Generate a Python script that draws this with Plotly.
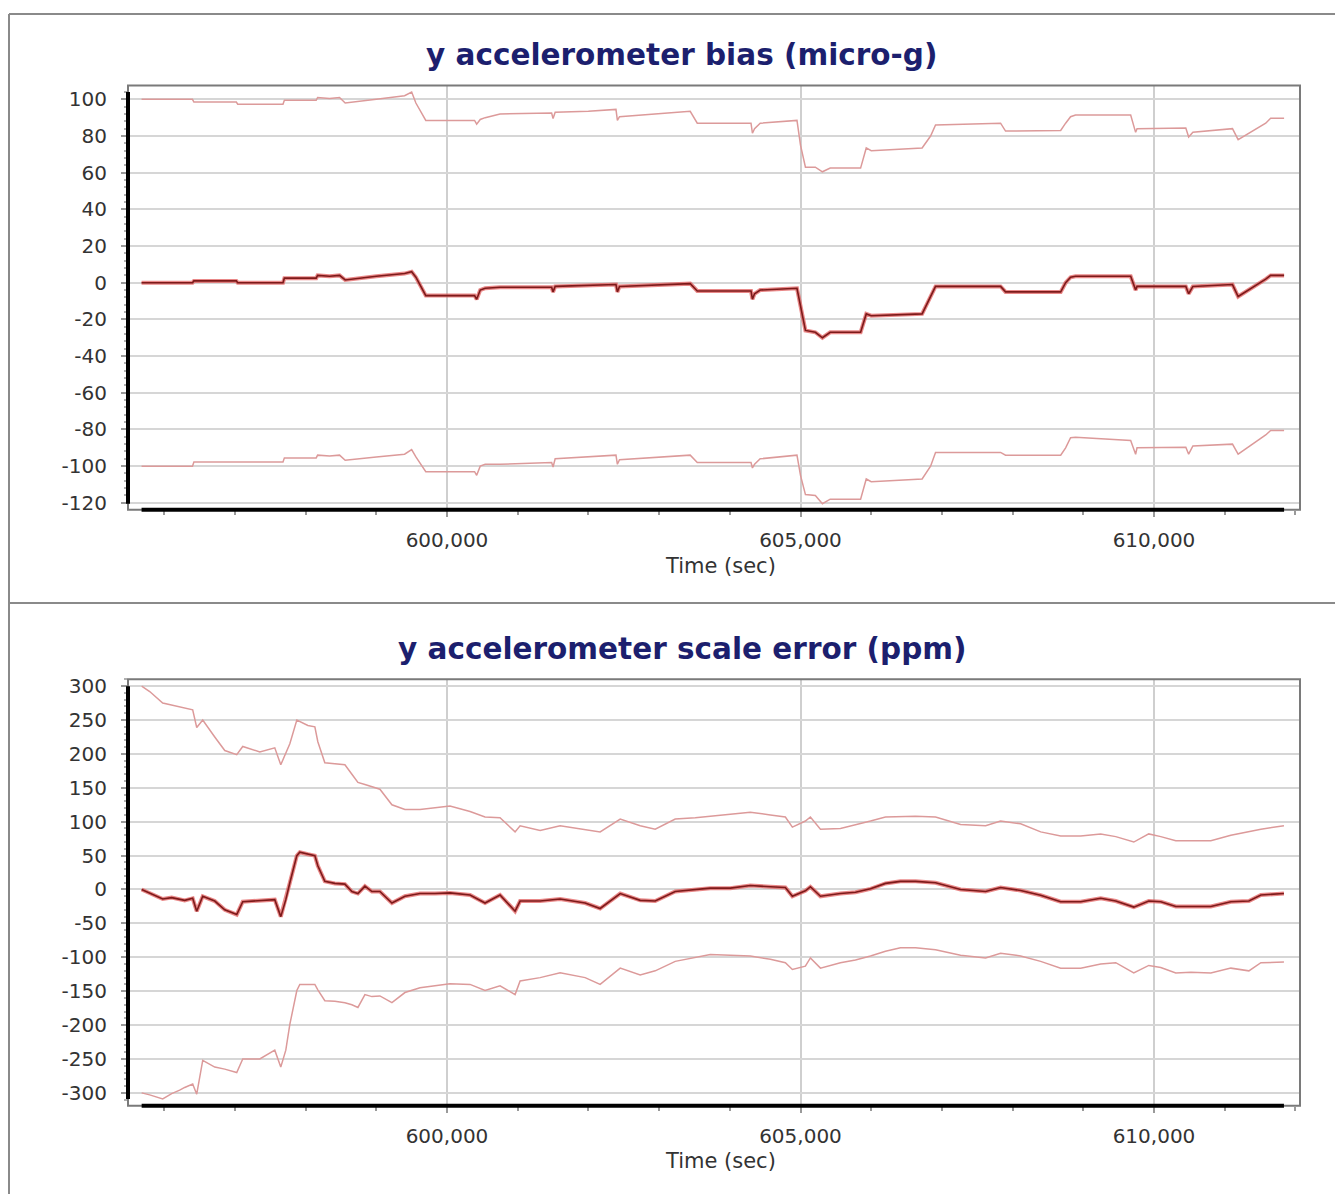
import plotly.graph_objects as go

# ---------------- data: y accelerometer bias (micro-g) ----------------
t_bias = [595680, 596400, 596420, 597020, 597040, 597680, 597700, 598150, 598170, 598340,
          598480, 598560, 599000, 599400, 599500, 599560, 599700, 600390, 600420, 600470,
          600540, 600750, 601480, 601500, 601530, 602000, 602390, 602410, 602440, 603440,
          603540, 604300, 604320, 604350, 604430, 604950, 605000, 605070, 605210, 605310,
          605420, 605850, 605930, 606000, 606720, 606840, 606910, 607830, 607900, 608680,
          608750, 608820, 608890, 609670, 609740, 609760, 610450, 610490, 610550, 611110,
          611190, 611580, 611650, 611840]
bias_est = [0, 0, 1, 1, 0, 0, 2.5, 2.5, 4, 3.5,
            4, 1.5, 3.5, 5, 6, 3, -7, -7, -9, -4,
            -3, -2.5, -2.5, -5, -2, -1.5, -1, -5, -2, -0.5,
            -4.5, -4.5, -9, -6, -4, -3, -12, -26, -27, -30,
            -27, -27, -17, -18, -17, -8, -2, -2, -5, -5,
            0, 3, 3.5, 3.5, -4, -2, -2, -6, -2, -1,
            -7.5, 2, 4, 4]
bias_upper = [100, 100, 98.5, 98.5, 97.3, 97.3, 99.5, 99.5, 101, 100.5,
              101, 98, 100, 102, 104, 98, 88.5, 88.5, 86.5, 89,
              90, 92, 92.5, 89.5, 93, 93.5, 94.5, 88.5, 90.5, 93.5,
              87, 87, 81.5, 84, 87, 88.5, 75, 63, 63, 60.5,
              62.5, 62.5, 73.5, 72, 73.5, 80, 86, 87, 82.7, 83,
              87, 90.5, 91.4, 91.4, 82, 84, 84.3, 79.5, 82, 84,
              78, 87, 89.7, 89.7]
bias_lower = [-100, -100, -97.8, -97.8, -97.8, -97.8, -95.5, -95.5, -94, -94.5,
              -94, -96.8, -95, -93.5, -91, -95, -103, -103, -105, -100,
              -99, -99, -98, -100.5, -96, -95, -94, -99, -96.5, -94,
              -98, -98, -101, -99, -96, -94, -105, -115.5, -116, -120.5,
              -118, -118, -107, -108.5, -107, -100, -92.5, -92.5, -94, -94,
              -90, -84.5, -84.3, -86, -93.5, -90, -89.7, -93.5, -89, -88,
              -93.5, -83, -80.5, -80.5]

# ---------------- data: y accelerometer scale error (ppm) ----------------
t_scale = [595681, 595795, 595979, 596106, 596219, 596290, 596403, 596460, 596545, 596715, 596857,
           597026, 597111, 597352, 597564, 597649, 597720, 597777, 597876, 597918, 598032,
           598131, 598173, 598272, 598414, 598556, 598655, 598740, 598839, 598938, 599051,
           599221, 599405, 599618, 599830, 600042, 600326, 600538, 600750, 600963, 601034,
           601317, 601600, 601954, 602166, 602450, 602733, 602945, 603228, 603512, 603724,
           604007, 604290, 604574, 604786, 604885, 605069, 605140, 605282, 605565, 605777,
           605990, 606202, 606414, 606627, 606910, 607264, 607618, 607830, 608114, 608397,
           608680, 608963, 609246, 609459, 609714, 609926, 610096, 610308, 610521, 610804,
           611087, 611342, 611512, 611838]
scale_est = [0, -5, -14, -12, -15, -16, -13, -32, -10, -17, -30,
             -37, -18, -16, -15, -40, -15, 10, 50, 55, 52,
             50, 35, 12, 9, 8, -3, -6, 5, -3, -3,
             -20, -10, -6, -6, -5, -8, -20, -8, -32, -17,
             -17, -14, -20, -28, -6, -16, -17, -3, 0, 2,
             2, 6, 4, 3, -10, -2, 4, -10, -6, -4,
             1, 9, 12, 12, 10, 0, -3, 3, -1.5, -8.5,
             -18, -18, -13, -17, -26, -17, -18, -25, -25, -25,
             -18, -17, -8, -6]
scale_upper = [300, 292, 275, 272, 270, 268, 265, 239, 250, 225, 205,
               199, 211, 203, 209, 184, 200, 215, 250, 248, 242,
               240, 218, 187, 185, 184, 170, 158, 155, 152, 148,
               125, 118, 118, 120, 123, 115, 107, 106, 85, 94,
               87, 94, 89, 85, 104, 94, 89, 104, 106, 108,
               111, 114, 110, 107, 92, 101, 107, 89, 90, 95,
               101, 107, 108, 108, 107, 96, 94, 101, 97, 85,
               79, 79, 82, 78, 70, 82, 78, 72, 72, 72,
               80, 85, 89, 94]
scale_lower = [-300, -303, -309, -301, -296, -292, -287, -302, -252, -262, -265,
               -270, -250, -250, -237, -262, -237, -199, -149, -140, -140,
               -140, -148, -164, -165, -167, -170, -174, -155, -158, -157,
               -167, -152, -145, -142, -139, -140, -149, -142, -155, -135,
               -130, -123, -130, -140, -116, -126, -120, -106, -100, -96,
               -97, -98, -103, -108, -118, -113, -101, -116, -108, -104,
               -98, -91, -86, -86, -89, -97, -101, -94, -98, -106,
               -116, -116, -110, -108, -123, -112, -115, -123, -122, -123,
               -116, -120, -108, -107]

# ---------------- ticks and text ----------------
bias_ticks = [-120, -100, -80, -60, -40, -20, 0, 20, 40, 60, 80, 100]
bias_ticklabels = ["-120", "-100", "-80", "-60", "-40", "-20", "0", "20", "40", "60", "80", "100"]
scale_ticks = [-300, -250, -200, -150, -100, -50, 0, 50, 100, 150, 200, 250, 300]
scale_ticklabels = ["-300", "-250", "-200", "-150", "-100", "-50", "0", "50", "100", "150", "200", "250", "300"]
time_ticks = [600000, 605000, 610000]
time_ticklabels = ["600,000", "605,000", "610,000"]
titles = ["y accelerometer bias (micro-g)", "y accelerometer scale error (ppm)"]
x_title = "Time (sec)"

# page offset (default body margin of the html page)
OFF = 8
W, H = 1343 - OFF, 1199 - OFF
def px(x):
    return (x - OFF) / W
def py(y):
    return 1 - (y - OFF) / H

HALO = "rgba(226,96,96,0.75)"
CORE = "#7d1a1a"
BOUND = "#dc9a9a"
FONT = "DejaVu Sans, Verdana, sans-serif"
TICKFONT = dict(family=FONT, size=20, color="#333333")

fig = go.Figure()

panels = [
    (t_bias, bias_est, bias_upper, bias_lower, "x", "y"),
    (t_scale, scale_est, scale_upper, scale_lower, "x2", "y2"),
]
for t, est, up, lo, xa, ya in panels:
    fig.add_trace(go.Scatter(x=t, y=up, mode="lines", line=dict(color=BOUND, width=1.5),
                             xaxis=xa, yaxis=ya, showlegend=False, hoverinfo="skip"))
    fig.add_trace(go.Scatter(x=t, y=lo, mode="lines", line=dict(color=BOUND, width=1.5),
                             xaxis=xa, yaxis=ya, showlegend=False, hoverinfo="skip"))
    fig.add_trace(go.Scatter(x=t, y=est, mode="lines", line=dict(color=HALO, width=4),
                             xaxis=xa, yaxis=ya, showlegend=False, hoverinfo="skip"))
    fig.add_trace(go.Scatter(x=t, y=est, mode="lines", line=dict(color=CORE, width=1.6),
                             xaxis=xa, yaxis=ya, showlegend=False, hoverinfo="skip"))

xdom = [px(128), px(1300)]
xrange_ = [595488, 612065]

common_x = dict(
    domain=xdom, range=xrange_, tickmode="array", tickvals=time_ticks, ticktext=time_ticklabels,
    ticks="outside", ticklen=6, tickcolor="#9a9a9a", tickwidth=1.5,
    showgrid=True, gridcolor="#cfcfcf", gridwidth=1.5, zeroline=False, showline=False,
    tickfont=TICKFONT, ticklabelstandoff=6,
    minor=dict(dtick=1000, tick0=0, ticks="outside", ticklen=4, tickcolor="#9a9a9a", showgrid=False),
)
common_y = dict(
    ticks="outside", ticklen=6, tickcolor="#9a9a9a", tickwidth=1.5,
    showgrid=True, gridcolor="#d6d6d6", gridwidth=2, zeroline=False, showline=False,
    tickfont=TICKFONT, tickmode="array", ticklabelstandoff=10,
)

fig.update_layout(
    width=W, height=H, margin=dict(l=0, r=0, t=0, b=0),
    paper_bgcolor="white", plot_bgcolor="white", showlegend=False,
    xaxis=dict(common_x, anchor="y"),
    yaxis=dict(common_y, domain=[py(509), py(81)], range=[-123.8, 107.6], anchor="x",
               tickvals=bias_ticks, ticktext=bias_ticklabels,
               minor=dict(dtick=4, tick0=0, ticks="outside", ticklen=3, tickcolor="#b0b0b0", showgrid=False)),
    xaxis2=dict(common_x, anchor="y2"),
    yaxis2=dict(common_y, domain=[py(1110), py(680)], range=[-319, 310], anchor="x2",
                tickvals=scale_ticks, ticktext=scale_ticklabels,
                minor=dict(dtick=10, tick0=0, ticks="outside", ticklen=3, tickcolor="#b0b0b0", showgrid=False)),
)

shapes = []
BORDER = dict(color="#8a8a8a", width=2)
shapes.append(dict(type="line", xref="paper", yref="paper", x0=px(9), x1=px(1337), y0=py(9), y1=py(9), line=BORDER))
shapes.append(dict(type="line", xref="paper", yref="paper", x0=px(9), x1=px(1337), y0=py(603), y1=py(603), line=BORDER))
shapes.append(dict(type="line", xref="paper", yref="paper", x0=px(9), x1=px(9), y0=0, y1=py(9), line=BORDER))
shapes.append(dict(type="line", xref="paper", yref="paper", x0=px(1336), x1=px(1336), y0=0, y1=py(9), line=BORDER))

annotations = []
for (t, est, up, lo, xa, ya), title, ty, xy in zip(panels, titles, [50, 649], [566, 1166]):
    xd = xa + " domain"
    yd = ya + " domain"
    shapes.append(dict(type="rect", xref=xd, yref=yd, x0=0, x1=1, y0=0, y1=1,
                       line=dict(color="#7a7a7a", width=2)))
    shapes.append(dict(type="line", xref=xa, yref=yd, x0=min(t), x1=max(t), y0=0, y1=0,
                       line=dict(color="black", width=4)))
    all_vals = list(up) + list(lo) + list(est)
    shapes.append(dict(type="line", xref=xd, yref=ya, x0=0, x1=0, y0=min(all_vals), y1=max(all_vals),
                       line=dict(color="black", width=4)))
    annotations.append(dict(text="<b>" + title + "</b>", xref="paper", yref="paper",
                            x=px(682), y=py(ty), xanchor="center", yanchor="middle", showarrow=False,
                            font=dict(family=FONT, size=29.5, color="#1c1f6e")))
    annotations.append(dict(text=x_title, xref="paper", yref="paper",
                            x=px(720), y=py(xy), xanchor="center", yanchor="middle", showarrow=False,
                            font=dict(family=FONT, size=21, color="#333333")))

fig.update_layout(shapes=shapes, annotations=annotations)

fig.write_html("out.html")
